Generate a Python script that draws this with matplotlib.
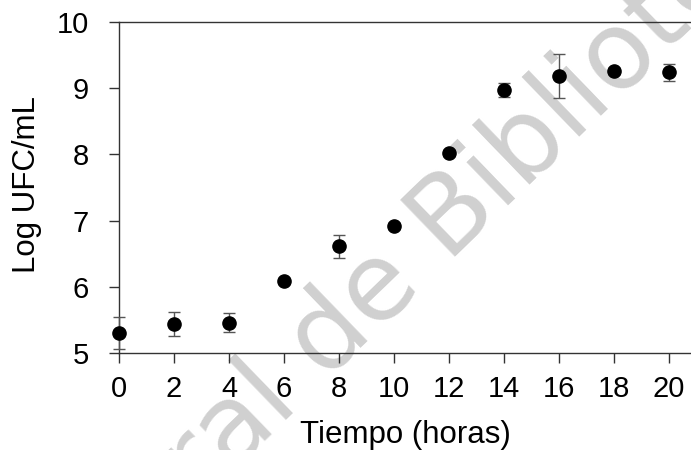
import matplotlib
matplotlib.use("Agg")
import matplotlib.pyplot as plt

# Growth curve: log CFU/mL over time (hours)
hours = [0, 2, 4, 6, 8, 10, 12, 14, 16, 18, 20]
log_ufc = [5.30, 5.44, 5.46, 6.09, 6.61, 6.92, 8.02, 8.97, 9.18, 9.26, 9.24]
std_err = [0.24, 0.18, 0.14, 0.03, 0.18, 0.05, 0.04, 0.11, 0.33, 0.05, 0.13]

x_ticks = [0, 2, 4, 6, 8, 10, 12, 14, 16, 18, 20]
y_ticks = [5, 6, 7, 8, 9, 10]

plt.rcParams['font.family'] = ['Liberation Sans', 'DejaVu Sans']

W, H = 691, 450
fig = plt.figure(figsize=(W / 100, H / 100), dpi=100)
left, right, top, bottom = 119, 691, 22, 353
ax = fig.add_axes([left / W, 1 - bottom / H, (right - left) / W, (bottom - top) / H])
ax.patch.set_alpha(0)

# faint diagonal watermark behind everything
fig.text(413 / W, 1 - 256 / H, "General de Bibliotecas", rotation=44,
         rotation_mode='anchor', ha='center', va='center',
         fontsize=78, color='#d0d0d0', family='DejaVu Sans', zorder=-5)

ax.errorbar(hours, log_ufc, yerr=std_err, fmt='o', color='black',
            markersize=9.5, ecolor='#555555', elinewidth=1.0,
            capsize=4.5, capthick=1.0, zorder=3, clip_on=False)

ax.set_xlim(0, (right - left) / 27.5)
ax.set_ylim(5, 10)
ax.set_xticks(x_ticks)
ax.set_yticks(y_ticks)

for side in ['left', 'bottom', 'top']:
    ax.spines[side].set_color('#333333')
    ax.spines[side].set_linewidth(1.0)
ax.spines['right'].set_visible(False)

ax.tick_params(axis='both', direction='out', length=7.5, width=1.0,
               color='#333333', labelsize=21, labelcolor='black')
ax.tick_params(axis='y', pad=14)
ax.tick_params(axis='x', pad=8.5)

fig.text((left + right) / 2 / W, 1 - 443 / H, "Tiempo (horas)",
         ha='center', va='baseline', fontsize=22.5)
fig.text(27 / W, 1 - (93 + 277) / 2 / H, "Log UFC/mL", rotation=90,
         ha='center', va='center', fontsize=22.5)

fig.savefig("out.png", dpi=100)
